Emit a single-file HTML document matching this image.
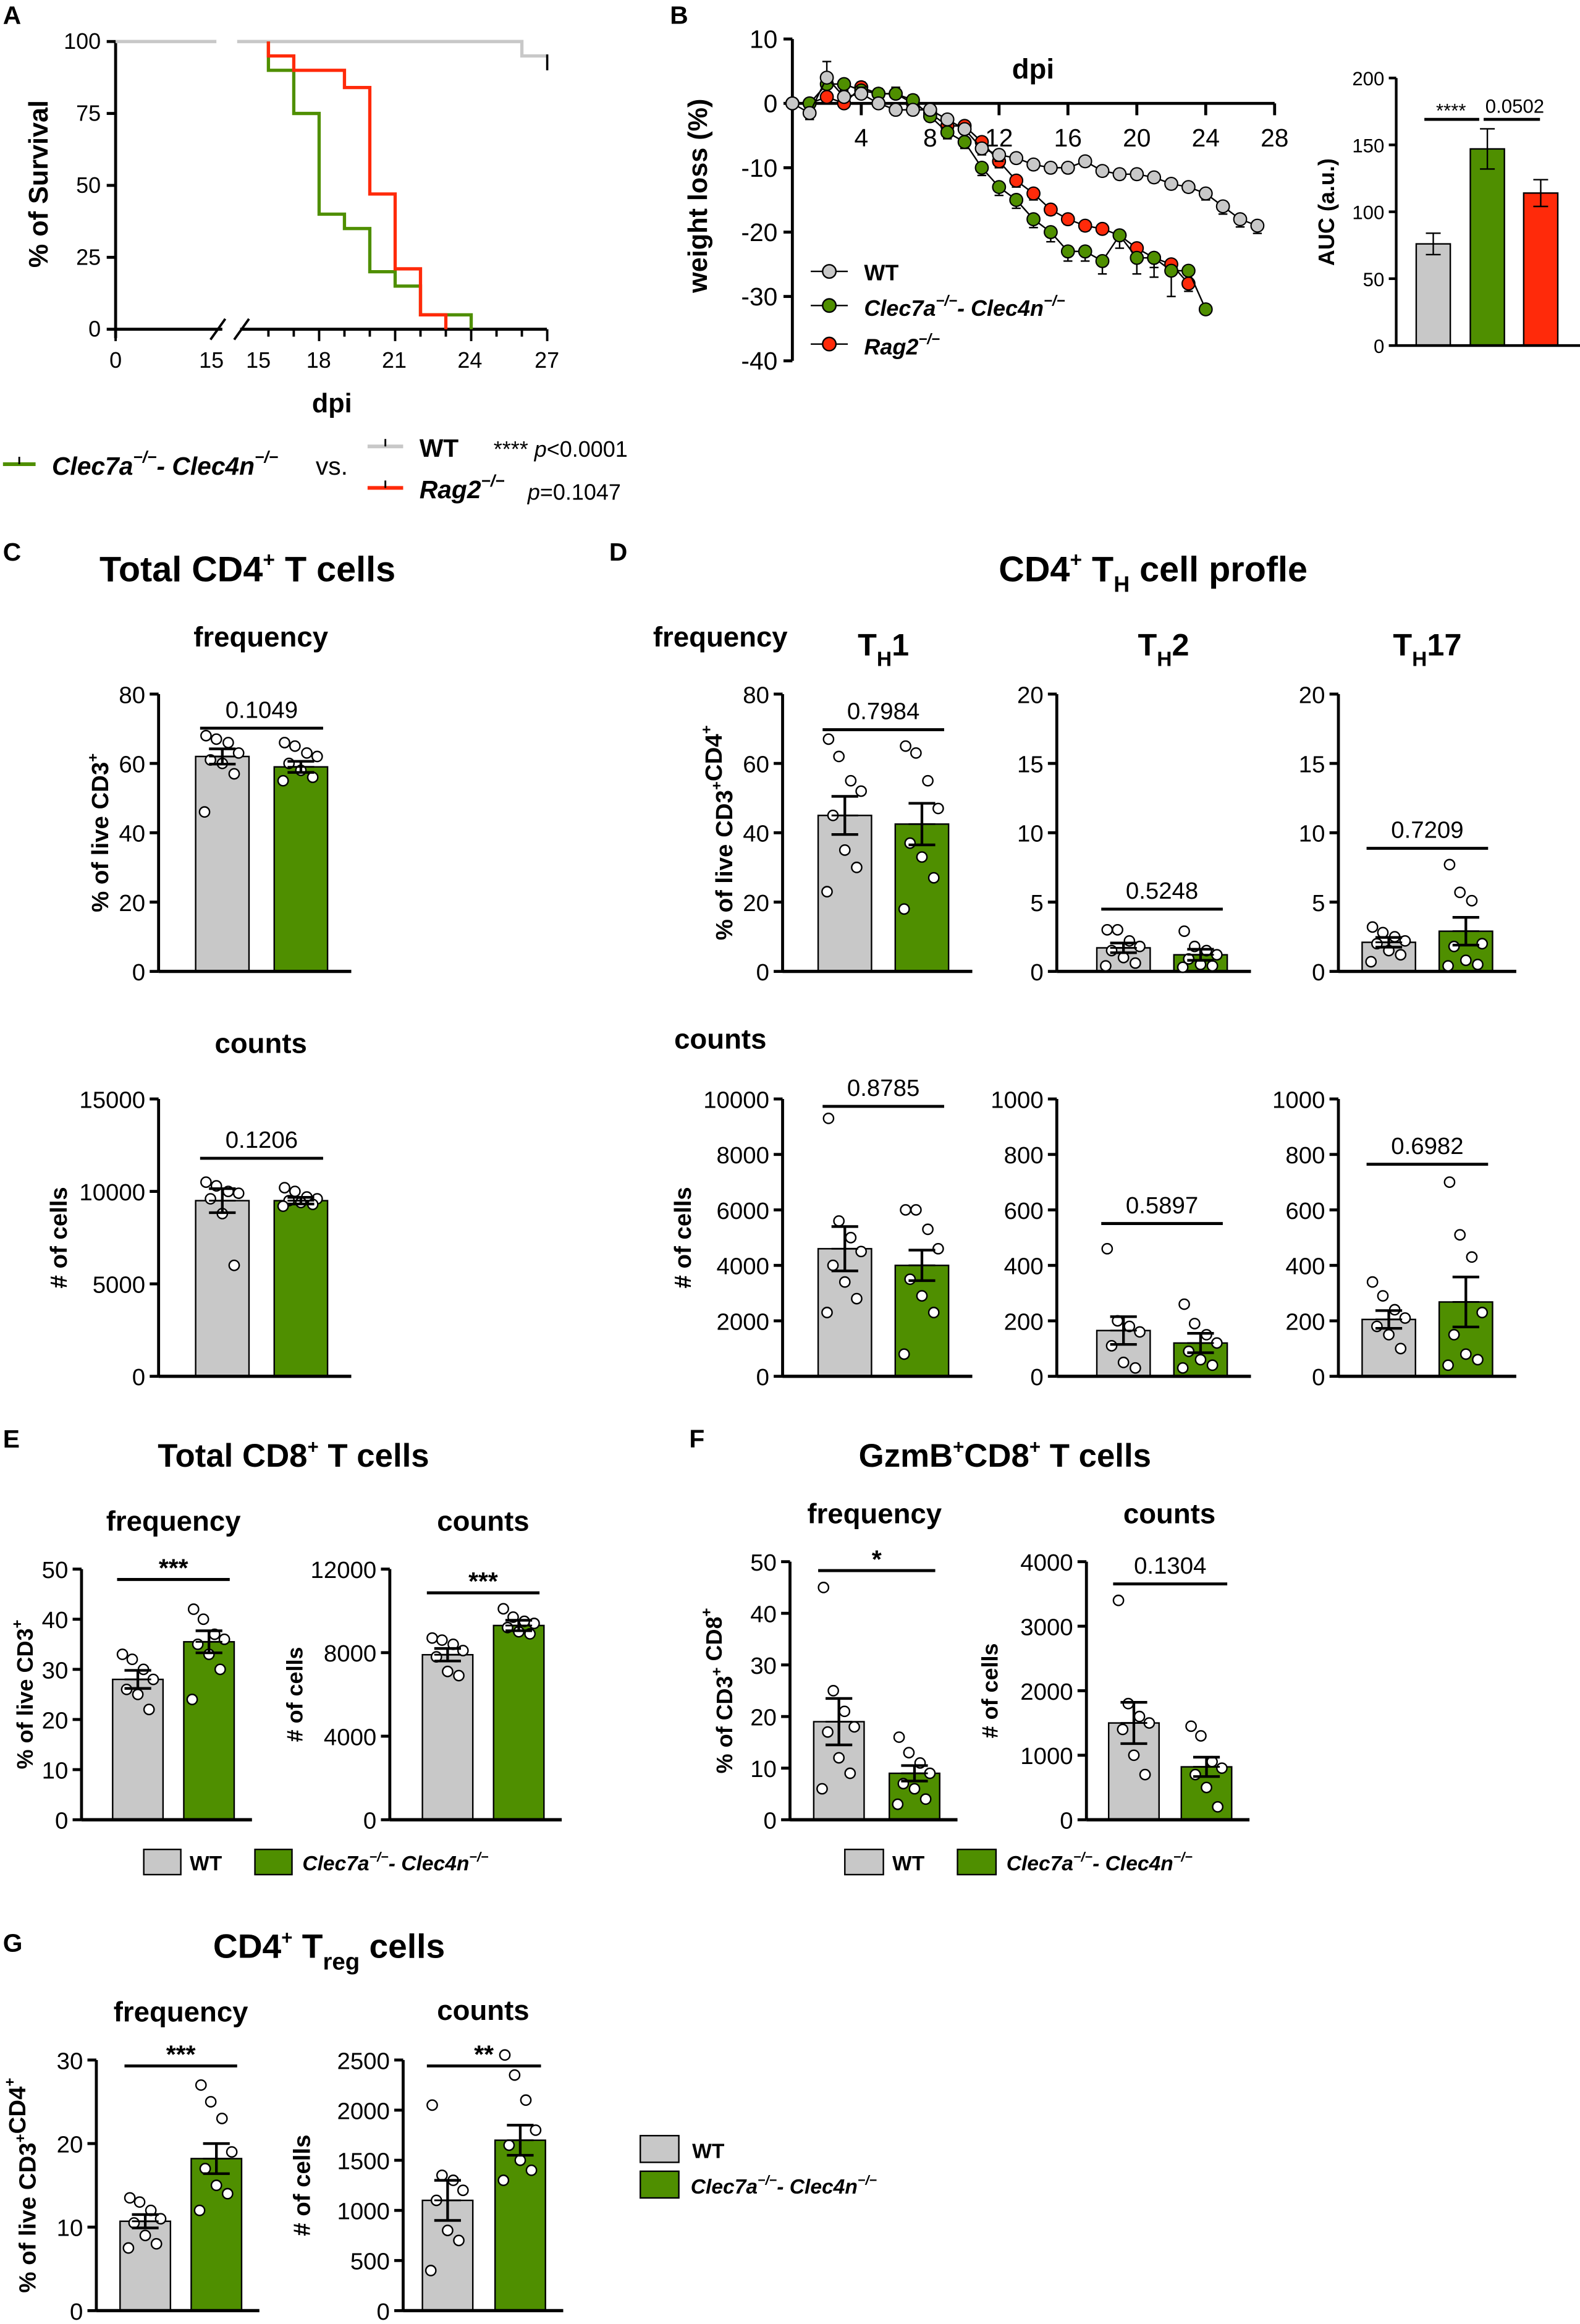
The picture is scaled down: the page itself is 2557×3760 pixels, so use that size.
<!DOCTYPE html>
<html><head><meta charset="utf-8"><style>
html,body{margin:0;padding:0;background:#fff}
svg{display:block}
text{font-family:"Liberation Sans",sans-serif;fill:#000}
</style></head><body>
<svg id="fig" width="2557" height="3760" viewBox="0 0 1066 1567" preserveAspectRatio="none" xmlns="http://www.w3.org/2000/svg">
<g id="static" font-family="Liberation Sans, sans-serif">
<text x="2" y="16" font-size="17" font-weight="bold">A</text>
<text x="452" y="16" font-size="17" font-weight="bold">B</text>
<text x="2" y="378" font-size="17" font-weight="bold">C</text>
<text x="411" y="378" font-size="17" font-weight="bold">D</text>
<text x="2" y="976" font-size="17" font-weight="bold">E</text>
<text x="465" y="976" font-size="17" font-weight="bold">F</text>
<text x="2" y="1316" font-size="17" font-weight="bold">G</text>

<text x="167" y="392" font-size="24" font-weight="bold" text-anchor="middle" fill="#222">Total CD4<tspan font-size="14" dy="-10">+</tspan><tspan dy="10"> T cells</tspan></text>
<text x="778" y="392" font-size="24" font-weight="bold" text-anchor="middle" fill="#222">CD4<tspan font-size="14" dy="-10">+</tspan><tspan dy="10"> T</tspan><tspan font-size="15" dy="7">H</tspan><tspan dy="-7"> cell profle</tspan></text>
<text x="176" y="436" font-size="19" font-weight="bold" text-anchor="middle">frequency</text>
<text x="486" y="436" font-size="19" font-weight="bold" text-anchor="middle">frequency</text>
<text x="596" y="442" font-size="21" font-weight="bold" text-anchor="middle">T<tspan font-size="14" dy="7">H</tspan><tspan dy="-7">1</tspan></text>
<text x="785" y="442" font-size="21" font-weight="bold" text-anchor="middle">T<tspan font-size="14" dy="7">H</tspan><tspan dy="-7">2</tspan></text>
<text x="963" y="442" font-size="21" font-weight="bold" text-anchor="middle">T<tspan font-size="14" dy="7">H</tspan><tspan dy="-7">17</tspan></text>
<text x="176" y="710" font-size="19" font-weight="bold" text-anchor="middle">counts</text>
<text x="486" y="707" font-size="19" font-weight="bold" text-anchor="middle">counts</text>

<text x="198" y="989" font-size="22" font-weight="bold" text-anchor="middle" fill="#222">Total CD8<tspan font-size="13" dy="-9">+</tspan><tspan dy="9"> T cells</tspan></text>
<text x="117" y="1032" font-size="19" font-weight="bold" text-anchor="middle">frequency</text>
<text x="326" y="1032" font-size="19" font-weight="bold" text-anchor="middle">counts</text>
<text x="678" y="989" font-size="22" font-weight="bold" text-anchor="middle" fill="#222">GzmB<tspan font-size="13" dy="-9">+</tspan><tspan dy="9">CD8</tspan><tspan font-size="13" dy="-9">+</tspan><tspan dy="9"> T cells</tspan></text>
<text x="590" y="1027" font-size="19" font-weight="bold" text-anchor="middle">frequency</text>
<text x="789" y="1027" font-size="19" font-weight="bold" text-anchor="middle">counts</text>
<text x="222" y="1320" font-size="23" font-weight="bold" text-anchor="middle" fill="#222">CD4<tspan font-size="13" dy="-9">+</tspan><tspan dy="9"> T</tspan><tspan font-size="16" dy="8">reg</tspan><tspan dy="-8"> cells</tspan></text>
<text x="122" y="1363" font-size="19" font-weight="bold" text-anchor="middle">frequency</text>
<text x="326" y="1362" font-size="19" font-weight="bold" text-anchor="middle">counts</text>

<g>
<line x1="2" y1="313" x2="24" y2="313" stroke="#4f8f00" stroke-width="2.5"/><line x1="13" y1="308" x2="13" y2="313" stroke="#000" stroke-width="1.2"/>
<text x="35" y="320" font-size="17" font-weight="bold" font-style="italic">Clec7a<tspan font-size="11" dy="-8">−/−</tspan><tspan dy="8">- Clec4n</tspan><tspan font-size="11" dy="-8">−/−</tspan></text>
<text x="213" y="320" font-size="17">vs.</text>
<line x1="248" y1="301" x2="272" y2="301" stroke="#c8c8c8" stroke-width="2.5"/><line x1="260" y1="296" x2="260" y2="301" stroke="#000" stroke-width="1.2"/>
<text x="283" y="308" font-size="17" font-weight="bold">WT</text>
<text x="333" y="308" font-size="15">**** <tspan font-style="italic">p</tspan>&lt;0.0001</text>
<line x1="248" y1="329" x2="272" y2="329" stroke="#ff2a0a" stroke-width="2.5"/><line x1="260" y1="324" x2="260" y2="329" stroke="#000" stroke-width="1.2"/>
<text x="283" y="336" font-size="17" font-weight="bold" font-style="italic">Rag2<tspan font-size="11" dy="-8">−/−</tspan></text>
<text x="356" y="337" font-size="15"><tspan font-style="italic">p</tspan>=0.1047</text>
</g>

<g>
<line x1="547" y1="183" x2="572" y2="183" stroke="#000"/><circle cx="559.5" cy="183" r="4.5" fill="#c8c8c8" stroke="#000"/>
<text x="583" y="189" font-size="15" font-weight="bold">WT</text>
<line x1="547" y1="206" x2="572" y2="206" stroke="#000"/><circle cx="559.5" cy="206" r="4.5" fill="#4f8f00" stroke="#000"/>
<text x="583" y="213" font-size="15" font-weight="bold" font-style="italic">Clec7a<tspan font-size="10" dy="-7">−/−</tspan><tspan dy="7">- Clec4n</tspan><tspan font-size="10" dy="-7">−/−</tspan></text>
<line x1="547" y1="232" x2="572" y2="232" stroke="#000"/><circle cx="559.5" cy="232" r="4.5" fill="#ff2a0a" stroke="#000"/>
<text x="583" y="239" font-size="15" font-weight="bold" font-style="italic">Rag2<tspan font-size="10" dy="-7">−/−</tspan></text>
</g>

<g>
<rect x="97" y="1247" width="25" height="17" fill="#c8c8c8" stroke="#000"/><text x="128" y="1261" font-size="14" font-weight="bold">WT</text>
<rect x="172" y="1247" width="25" height="17" fill="#4f8f00" stroke="#000"/><text x="204" y="1261" font-size="14" font-weight="bold" font-style="italic">Clec7a<tspan font-size="9" dy="-6">−/−</tspan><tspan dy="6">- Clec4n</tspan><tspan font-size="9" dy="-6">−/−</tspan></text>
</g>
<g>
<rect x="570" y="1247" width="26" height="17" fill="#c8c8c8" stroke="#000"/><text x="602" y="1261" font-size="14" font-weight="bold">WT</text>
<rect x="646" y="1247" width="26" height="17" fill="#4f8f00" stroke="#000"/><text x="679" y="1261" font-size="14" font-weight="bold" font-style="italic">Clec7a<tspan font-size="9" dy="-6">−/−</tspan><tspan dy="6">- Clec4n</tspan><tspan font-size="9" dy="-6">−/−</tspan></text>
</g>
<g>
<rect x="432" y="1440" width="26" height="18" fill="#c8c8c8" stroke="#000"/><text x="467" y="1455" font-size="14" font-weight="bold">WT</text>
<rect x="432" y="1464" width="26" height="18" fill="#4f8f00" stroke="#000"/><text x="466" y="1479" font-size="14" font-weight="bold" font-style="italic">Clec7a<tspan font-size="9" dy="-6">−/−</tspan><tspan dy="6">- Clec4n</tspan><tspan font-size="9" dy="-6">−/−</tspan></text>
</g>
</g>
<g id="dyn"></g>
</svg>
<script>
const survDaysGreen = [16,16,17,18,19,20,21,22,24];
const survGreen     = [100,90,75,40,35,20,15,5,0];
const survDaysRed   = [16,16,17,19,20,21,22,23];
const survRed       = [100,95,90,84,47,21,5,0];
const survDaysWT    = [0,26,27];
const survWT        = [100,95,95];
const survYTicks = [0,25,50,75,100];
const survXTicks = [0,15,15,18,21,24,27];

const wDaysWT = [0,1,2,3,4,5,6,7,8,9,10,11,12,13,14,15,16,17,18,19,20,21,22,23,24,25,26,27];
const wWT     = [0,-1.5,4,1,1.5,0,-1,-1,-1,-2.5,-4,-7,-8,-8.5,-9.5,-10,-10,-9,-10.5,-11,-11,-11.5,-12.5,-13,-14,-16,-18,-19];
const wErrWT  = [0,1,2.5,1,1,0.8,0.8,0.8,0.8,0.8,0.8,1,1,0.8,0.8,0.8,0.8,0.8,0.8,0.8,0.8,0.8,0.8,0.8,1,1.2,1.2,1.2];
const wDaysGreen = [0,1,2,3,4,5,6,7,8,9,10,11,12,13,14,15,16,17,18,19,20,21,22,23,24];
const wGreen     = [0,0,3,3,2,1.5,1.5,0.5,-2,-4.5,-6,-10,-13,-15,-18,-20,-23,-23,-24.5,-20.5,-24,-24,-26,-26,-32];
const wErrGreen  = [0,0.5,1,0.5,0.5,0.8,1,0.8,0.8,1,1,1.2,1.3,1.3,1.3,1.5,1.5,1.5,2,2,2.5,3,4,0,0];
const wDaysRed = [0,1,2,3,4,5,6,7,8,9,10,11,12,13,14,15,16,17,18,19,20,21,22,23];
const wRed     = [0,0,1,0,2.5,1.5,1.5,0,-1.5,-3.5,-3.5,-6,-9,-12,-14,-16.5,-18,-19,-19.5,-20.5,-22.5,-24,-25,-28];
const wErrRed  = [0,0,0.5,0.5,0.8,0.5,0.5,0.5,0.5,0.8,0.8,0.8,1,1,1,0.8,0.8,0.8,0.5,0.8,1,1.5,1.5,1.2];
const wYTicks = [10,0,-10,-20,-30,-40];
const wXTicks = [4,8,12,16,20,24,28];

const aucCats = ['WT','Clec7a-Clec4n','Rag2'];
const aucVals = [76,147,114];
const aucErrs = [8,15,10];
const aucTicks = [0,50,100,150,200];

const cFreqWT = [68,67,66,63,61,60,57,46];  const cFreqKO = [66,65,63,62,60,58,56,55];
const cFreqMean = [62,59]; const cFreqErr = [2.2,1.6];
const cCntWT = [10500,10300,10000,9900,9600,8800,6000]; const cCntKO = [10200,10000,9700,9600,9500,9400,9300,9200];
const cCntMean = [9500,9500]; const cCntErr = [650,180];
const th1FreqWT = [67,62,55,52,45,35,30,23]; const th1FreqKO = [65,63,55,47,37,33,27,18];
const th1FreqMean = [45,42.5]; const th1FreqErr = [5.5,6];
const th2FreqWT = [3.0,3.0,2.2,1.8,1.5,1.0,0.6,0.4]; const th2FreqKO = [2.9,1.8,1.5,1.2,0.9,0.5,0.4,0.3];
const th2FreqMean = [1.7,1.2]; const th2FreqErr = [0.35,0.4];
const th17FreqWT = [3.2,2.8,2.5,2.2,2.0,1.5,1.2,0.7]; const th17FreqKO = [7.7,5.7,5.1,2.0,1.8,0.8,0.5,0.4];
const th17FreqMean = [2.1,2.9]; const th17FreqErr = [0.35,1.0];
const th1CntWT = [9300,5600,5000,4500,4000,3400,2800,2300]; const th1CntKO = [6000,6000,5300,4600,3500,2900,2300,800];
const th1CntMean = [4600,4000]; const th1CntErr = [800,550];
const th2CntWT = [460,200,180,160,110,50,30]; const th2CntKO = [260,190,150,120,90,60,40,30];
const th2CntMean = [165,120]; const th2CntErr = [50,35];
const th17CntWT = [340,290,240,210,180,150,100]; const th17CntKO = [700,510,430,230,150,80,60,40];
const th17CntMean = [205,268]; const th17CntErr = [32,90];
const eFreqWT = [33,32,30,28,26,25,22]; const eFreqKO = [42,40,37,36,35,33,30,24];
const eFreqMean = [28,35.5]; const eFreqErr = [1.8,2.2];
const eCntWT = [8700,8600,8400,8100,7800,7100,6900]; const eCntKO = [10100,9700,9500,9400,9200,9000,8900];
const eCntMean = [7900,9300]; const eCntErr = [300,250];
const fFreqWT = [45,25,21,18,17,12,9,6]; const fFreqKO = [16,13,11,9,7,6,4,3];
const fFreqMean = [19,9]; const fFreqErr = [4.5,1.5];
const fCntWT = [3400,1800,1600,1500,1400,1000,700]; const fCntKO = [1450,1300,900,800,700,500,200];
const fCntMean = [1500,820]; const fCntErr = [320,150];
const gFreqWT = [13.5,13,12,11,10.5,9,8,7.5]; const gFreqKO = [27,25,23,19,17,15,14,12];
const gFreqMean = [10.7,18.2]; const gFreqErr = [0.8,1.8];
const gCntWT = [2050,1350,1300,1200,1100,800,700,400]; const gCntKO = [2550,2350,2100,1800,1650,1500,1400,1300];
const gCntMean = [1100,1700]; const gCntErr = [200,150];

const NS='http://www.w3.org/2000/svg';
const root=document.getElementById('dyn');
function mk(tag,attrs,parent){const e=document.createElementNS(NS,tag);for(const k in attrs)e.setAttribute(k,attrs[k]);(parent||root).appendChild(e);return e;}
function txt(s,attrs,parent){const e=mk('text',attrs,parent);e.textContent=s;return e;}
const GREEN='#4f8f00', GRAY='#c8c8c8', RED='#ff2a0a';

(function(){
  const g=mk('g',{});
  
  
  const top=28,bot=222;
  const y=v=>bot-v/100*(bot-top);
  const x=d=> d<15 ? 78+d*72/15 : 164+(d-15)*17.1;
  const xl=d=>78+d*72/15;
  mk('line',{x1:78,y1:top,x2:78,y2:bot+6,stroke:'#000','stroke-width':2},g);
  survYTicks.forEach(t=>{mk('line',{x1:72,y1:y(t),x2:78,y2:y(t),stroke:'#000','stroke-width':2},g);
    const l=txt(String(t),{x:68,y:y(t)+5,'font-size':15,'text-anchor':'end'},g);
    
    });
  mk('line',{x1:78,y1:bot,x2:150,y2:bot,stroke:'#000','stroke-width':2},g);
  mk('line',{x1:162,y1:bot,x2:369,y2:bot,stroke:'#000','stroke-width':2},g);
  mk('line',{x1:142,y1:229,x2:152,y2:215,stroke:'#000','stroke-width':1.6},g);
  mk('line',{x1:158,y1:229,x2:168,y2:215,stroke:'#000','stroke-width':1.6},g);
  for(let d=16;d<=27;d++){const big=(d%3===0);mk('line',{x1:x(d),y1:bot,x2:x(d),y2:bot+(big?8:5),stroke:'#000','stroke-width':1.6},g);}
  mk('line',{x1:78,y1:bot,x2:78,y2:bot+8,stroke:'#000','stroke-width':1.6},g);
  const xpos=[78,151,166,215,266,317,369];
  survXTicks.forEach((t,i)=>{const l=txt(String(t),{x:xpos[i],y:248,'font-size':15,'text-anchor':i===1?'end':(i===2?'start':'middle')},g);
    
    });
  const xl2=txt('dpi',{x:224,y:278,'font-size':18,'font-weight':'bold','text-anchor':'middle'},g);
  
  
  const yl=txt('% of Survival',{x:0,y:0,'font-size':18,'font-weight':'bold','text-anchor':'middle',transform:'translate(32,124) rotate(-90)'},g);
  
  
  function step(days,vals,col,name){
    let pts=[];
    for(let i=0;i<days.length;i++){
      const xx=x(days[i]);
      if(i>0)pts.push([xx,y(vals[i-1])]);
      pts.push([xx,y(vals[i])]);
    }
    const p=mk('polyline',{points:pts.map(p=>p.join(',')).join(' '),fill:'none',stroke:col,'stroke-width':2.2},g);
    
    
  }
  const wt=mk('line',{x1:xl(survDaysWT[0]),y1:y(survWT[0]),x2:146,y2:y(survWT[0]),stroke:GRAY,'stroke-width':2.2},g);
  
  
  const pts=[[160,y(survWT[0])]];
  for(let i=1;i<survDaysWT.length;i++){pts.push([x(survDaysWT[i]),y(survWT[i-1])]);pts.push([x(survDaysWT[i]),y(survWT[i])]);}
  const wp=mk('polyline',{points:pts.map(p=>p.join(',')).join(' '),fill:'none',stroke:GRAY,'stroke-width':2.2},g);
  
  
  mk('line',{x1:x(27),y1:y(95)-1,x2:x(27),y2:y(90),stroke:'#000','stroke-width':1.5},g);
  step(survDaysGreen,survGreen,GREEN,'survival-clec-ko');
  step(survDaysRed,survRed,RED,'survival-rag2');
})();

(function(){
  const g=mk('g',{});
  
  
  const x=d=>534.6+d*11.62;
  const y=v=>69.7-v*4.34;
  mk('line',{x1:x(0),y1:y(10),x2:x(0),y2:y(-40),stroke:'#000','stroke-width':2},g);
  wYTicks.forEach(t=>{mk('line',{x1:x(0)-6,y1:y(t),x2:x(0),y2:y(t),stroke:'#000','stroke-width':2},g);
    const l=txt(String(t),{x:x(0)-10,y:y(t)+6,'font-size':17,'text-anchor':'end'},g);
    
    });
  mk('line',{x1:x(0),y1:y(0),x2:x(28),y2:y(0),stroke:'#000','stroke-width':2},g);
  wXTicks.forEach(t=>{mk('line',{x1:x(t),y1:y(0),x2:x(t),y2:y(0)+8,stroke:'#000','stroke-width':2},g);
    const l=txt(String(t),{x:x(t),y:y(0)+29,'font-size':17,'text-anchor':'middle'},g);
    
    });
  const t1=txt('dpi',{x:697,y:53,'font-size':19,'font-weight':'bold','text-anchor':'middle'},g);
  
  
  const t2=txt('weight loss (%)',{x:0,y:0,'font-size':18,'font-weight':'bold','text-anchor':'middle',transform:'translate(477,132) rotate(-90)'},g);
  
  
  function series(days,vals,errs,col,name){
    const sg=mk('g',{},g);
    
    
    mk('polyline',{points:days.map((d,i)=>x(d)+','+y(vals[i])).join(' '),fill:'none',stroke:'#000','stroke-width':1},sg);
    days.forEach((d,i)=>{ if(errs[i]>0){
      const up=vals[i]>=0;
      mk('line',{x1:x(d),y1:y(vals[i]),x2:x(d),y2:y(vals[i]+(up?errs[i]:-errs[i])),stroke:'#000','stroke-width':1},sg);
      const ye=y(vals[i]+(up?errs[i]:-errs[i]));
      mk('line',{x1:x(d)-3,y1:ye,x2:x(d)+3,y2:ye,stroke:'#000','stroke-width':1},sg);}});
    days.forEach((d,i)=>{const c=mk('circle',{cx:x(d),cy:y(vals[i]),r:4.3,fill:col,stroke:'#000','stroke-width':0.9},sg);
      
      });
  }
  series(wDaysRed,wRed,wErrRed,RED,'weight-rag2');
  series(wDaysGreen,wGreen,wErrGreen,GREEN,'weight-clec-ko');
  series(wDaysWT,wWT,wErrWT,GRAY,'weight-wt');
})();

(function(){
  const g=mk('g',{});
  
  
  const ax=942,top=52.6,bot=233;
  const y=v=>bot-v/200*(bot-top);
  const cx=[967,1003.5,1039.5];
  mk('line',{x1:ax,y1:top,x2:ax,y2:bot,stroke:'#000','stroke-width':1.8},g);
  aucTicks.forEach(t=>{mk('line',{x1:ax-5,y1:y(t),x2:ax,y2:y(t),stroke:'#000','stroke-width':1.8},g);
    const l=txt(String(t),{x:ax-8,y:y(t)+5,'font-size':13,'text-anchor':'end'},g);
    
    });
  const cols=[GRAY,GREEN,RED];
  aucVals.forEach((v,i)=>{
    const r=mk('rect',{x:cx[i]-11.5,y:y(v),width:23,height:bot-y(v),fill:cols[i],stroke:'#000','stroke-width':1},g);
    
    
    mk('line',{x1:cx[i],y1:y(v-aucErrs[i]),x2:cx[i],y2:y(v+aucErrs[i]),stroke:'#000','stroke-width':1},g);
    [v-aucErrs[i],v+aucErrs[i]].forEach(e=>mk('line',{x1:cx[i]-5,y1:y(e),x2:cx[i]+5,y2:y(e),stroke:'#000','stroke-width':1},g));
  });
  mk('line',{x1:ax,y1:bot,x2:1066,y2:bot,stroke:'#000','stroke-width':1.8},g);
  mk('line',{x1:961,y1:80.5,x2:998,y2:80.5,stroke:'#000','stroke-width':2},g);
  mk('line',{x1:1001,y1:80.5,x2:1039,y2:80.5,stroke:'#000','stroke-width':2},g);
  txt('****',{x:979,y:79,'font-size':13,'text-anchor':'middle'},g);
  txt('0.0502',{x:1022,y:76,'font-size':13,'text-anchor':'middle'},g);
  const t=txt('AUC (a.u.)',{x:0,y:0,'font-size':15,'font-weight':'bold','text-anchor':'middle',transform:'translate(900,143) rotate(-90)'},g);
  
  
})();

function barPanel(o){
  const g=mk('g',{});
  
  
  const y=v=>o.bot-v/o.max*(o.bot-o.top);
  const fs=o.fs||16;
  mk('line',{x1:o.ax,y1:o.top,x2:o.ax,y2:o.bot,stroke:'#000','stroke-width':2},g);
  o.ticks.forEach(t=>{mk('line',{x1:o.ax-6,y1:y(t),x2:o.ax,y2:y(t),stroke:'#000','stroke-width':2},g);
    const l=txt(String(t),{x:o.ax-9,y:y(t)+6,'font-size':fs,'text-anchor':'end'},g);
    
    });
  const bw=o.bw||36;
  const right=o.cx[1]+bw/2+(o.ext||16);
  const cols=[GRAY,GREEN];
  o.means.forEach((m,i)=>{
    const r=mk('rect',{x:o.cx[i]-bw/2,y:y(m),width:bw,height:o.bot-y(m),fill:cols[i],stroke:'#000','stroke-width':1},g);
    
    
  });
  mk('line',{x1:o.ax,y1:o.bot,x2:right,y2:o.bot,stroke:'#000','stroke-width':2.2},g);
  const offs=[-11,-4,4,11,-8,0,8,-12,12];
  [o.dwt,o.dko].forEach((arr,i)=>{
    arr.forEach((v,j)=>{const c=mk('circle',{cx:o.cx[i]+offs[j%offs.length]*(bw/36),cy:y(v),r:3.4,fill:'#fff',stroke:'#000','stroke-width':1},g);
      
      });
  });
  o.means.forEach((m,i)=>{
    const e=o.errs[i];
    mk('line',{x1:o.cx[i],y1:y(m-e),x2:o.cx[i],y2:y(m+e),stroke:'#000','stroke-width':1.8},g);
    [m-e,m,m+e].forEach(v=>mk('line',{x1:o.cx[i]-9,y1:y(v),x2:o.cx[i]+9,y2:y(v),stroke:'#000','stroke-width':(v===m?1.2:1.8)},g));
  });
  mk('line',{x1:o.cx[0]-bw/2+3,y1:o.sigY,x2:o.cx[1]+bw/2-3,y2:o.sigY,stroke:'#000','stroke-width':2},g);
  const st=txt(o.sig,{x:(o.cx[0]+o.cx[1])/2,y:o.sigY-(o.sig.startsWith('*')?2:7),'font-size':o.sig.startsWith('*')?17:16,'text-anchor':'middle','font-weight':o.sig.startsWith('*')?'bold':'normal'},g);
  
  
  if(o.ytitle){
    const t=mk('text',{x:0,y:0,'font-size':o.yfs||16,'font-weight':'bold','text-anchor':'middle',transform:'translate('+o.ytx+','+((o.top+o.bot)/2)+') rotate(-90)'},g);
    t.innerHTML=o.ytitle;
    
    
  }
}
const sup=s=>'<tspan font-size="10" dy="-7">'+s+'</tspan><tspan dy="7"></tspan>';
barPanel({name:'c-frequency',ax:107,top:468,bot:655,max:80,ticks:[0,20,40,60,80],cx:[150,203],means:cFreqMean,errs:cFreqErr,dwt:cFreqWT,dko:cFreqKO,sig:'0.1049',sigY:491,ytitle:'% of live CD3'+sup('+'),ytx:73});
barPanel({name:'c-counts',ax:107,top:741,bot:928,max:15000,ticks:[0,5000,10000,15000],cx:[150,203],means:cCntMean,errs:cCntErr,dwt:cCntWT,dko:cCntKO,sig:'0.1206',sigY:781,ytitle:'# of cells',ytx:45});
barPanel({name:'th1-frequency',ax:528,top:468,bot:655,max:80,ticks:[0,20,40,60,80],cx:[570,622],means:th1FreqMean,errs:th1FreqErr,dwt:th1FreqWT,dko:th1FreqKO,sig:'0.7984',sigY:492,ytitle:'% of live CD3'+sup('+')+'CD4'+sup('+'),ytx:494});
barPanel({name:'th2-frequency',ax:713,top:468,bot:655,max:20,ticks:[0,5,10,15,20],cx:[758,810],means:th2FreqMean,errs:th2FreqErr,dwt:th2FreqWT,dko:th2FreqKO,sig:'0.5248',sigY:613});
barPanel({name:'th17-frequency',ax:903,top:468,bot:655,max:20,ticks:[0,5,10,15,20],cx:[937,989],means:th17FreqMean,errs:th17FreqErr,dwt:th17FreqWT,dko:th17FreqKO,sig:'0.7209',sigY:572});
barPanel({name:'th1-counts',ax:528,top:741,bot:928,max:10000,ticks:[0,2000,4000,6000,8000,10000],cx:[570,622],means:th1CntMean,errs:th1CntErr,dwt:th1CntWT,dko:th1CntKO,sig:'0.8785',sigY:746,ytitle:'# of cells',ytx:466});
barPanel({name:'th2-counts',ax:713,top:741,bot:928,max:1000,ticks:[0,200,400,600,800,1000],cx:[758,810],means:th2CntMean,errs:th2CntErr,dwt:th2CntWT,dko:th2CntKO,sig:'0.5897',sigY:825});
barPanel({name:'th17-counts',ax:903,top:741,bot:928,max:1000,ticks:[0,200,400,600,800,1000],cx:[937,989],means:th17CntMean,errs:th17CntErr,dwt:th17CntWT,dko:th17CntKO,sig:'0.6982',sigY:785});
barPanel({name:'e-frequency',ax:55,top:1058,bot:1227,max:50,ticks:[0,10,20,30,40,50],cx:[93,141],bw:34,ext:12,means:eFreqMean,errs:eFreqErr,dwt:eFreqWT,dko:eFreqKO,sig:'***',sigY:1065,ytitle:'% of live CD3'+sup('+'),ytx:22,yfs:15});
barPanel({name:'e-counts',ax:263,top:1058,bot:1227,max:12000,ticks:[0,4000,8000,12000],cx:[302,350],bw:34,ext:12,means:eCntMean,errs:eCntErr,dwt:eCntWT,dko:eCntKO,sig:'***',sigY:1074,ytitle:'# of cells',ytx:204,yfs:15});
barPanel({name:'f-frequency',ax:533,top:1053,bot:1227,max:50,ticks:[0,10,20,30,40,50],cx:[566,617],bw:34,ext:12,means:fFreqMean,errs:fFreqErr,dwt:fFreqWT,dko:fFreqKO,sig:'*',sigY:1059,ytitle:'% of CD3'+sup('+')+' CD8'+sup('+'),ytx:494,yfs:15});
barPanel({name:'f-counts',ax:733,top:1053,bot:1227,max:4000,ticks:[0,1000,2000,3000,4000],cx:[765,814],bw:34,ext:12,means:fCntMean,errs:fCntErr,dwt:fCntWT,dko:fCntKO,sig:'0.1304',sigY:1068,ytitle:'# of cells',ytx:673,yfs:15});
barPanel({name:'g-frequency',ax:65,top:1389,bot:1558,max:30,ticks:[0,10,20,30],cx:[98,146],bw:34,ext:12,means:gFreqMean,errs:gFreqErr,dwt:gFreqWT,dko:gFreqKO,sig:'***',sigY:1393,ytitle:'% of live CD3'+sup('+')+'CD4'+sup('+'),ytx:24});
barPanel({name:'g-counts',ax:272,top:1389,bot:1558,max:2500,ticks:[0,500,1000,1500,2000,2500],cx:[302,351],bw:34,ext:12,means:gCntMean,errs:gCntErr,dwt:gCntWT,dko:gCntKO,sig:'**',sigY:1393,ytitle:'# of cells',ytx:209});
</script>
</body></html>
